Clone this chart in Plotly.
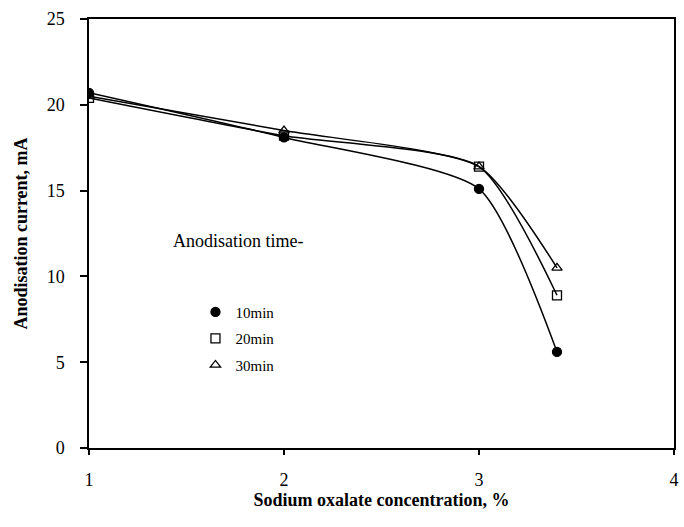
import plotly.graph_objects as go

conc = [1, 2, 3, 3.4]
cur_10 = [20.7, 18.1, 15.1, 5.6]
cur_20 = [20.4, 18.2, 16.4, 8.9]
cur_30 = [20.5, 18.5, 16.4, 10.5]
names = ["10min", "20min", "30min"]
symbols = ["circle", "square-open", "triangle-up-open"]

FONT = "Liberation Serif"
fig = go.Figure()
for ys, nm in zip([cur_10, cur_20, cur_30], names):
    fig.add_trace(go.Scatter(
        x=conc, y=ys, name=nm, mode="lines", showlegend=False, hoverinfo="skip",
        line=dict(color="black", width=1.5, shape="spline", smoothing=0.6),
    ))
for ys, nm, sym in zip([cur_10, cur_20, cur_30], names, symbols):
    fig.add_trace(go.Scatter(
        x=conc, y=ys, name=nm, mode="markers", legendgroup=nm,
        marker=dict(symbol=sym, size=9, color="black", line=dict(color="black", width=1.3)),
    ))

fig.add_annotation(x=0.14, y=0.483, xref="paper", yref="paper", xanchor="left", yanchor="middle",
                   text="Anodisation time-", showarrow=False,
                   font=dict(family=FONT, size=18, color="black"))

fig.update_layout(
    width=684, height=527,
    margin=dict(l=89, r=5, t=19, b=79),
    paper_bgcolor="white", plot_bgcolor="white",
    font=dict(family=FONT, size=18, color="black"),
    legend=dict(x=0.182, y=0.355, xanchor="left", yanchor="top", bgcolor="rgba(0,0,0,0)",
                font=dict(family=FONT, size=15), tracegroupgap=4, itemwidth=30),
    showlegend=True,
)
fig.update_xaxes(range=[1, 4], tickvals=[1, 2, 3, 4], showgrid=False, zeroline=False,
                 showline=True, linecolor="black", linewidth=1.5, mirror=True,
                 ticks="outside", ticklen=5, tickcolor="black", tickwidth=1.5,
                 ticklabelstandoff=10,
                 title=dict(text="<b>Sodium oxalate concentration, %</b>", font=dict(size=18), standoff=2))
fig.update_yaxes(range=[0, 25], tickvals=[0, 5, 10, 15, 20, 25], showgrid=False, zeroline=False,
                 showline=True, linecolor="black", linewidth=1.5, mirror=True,
                 ticks="outside", ticklen=7, tickcolor="black", tickwidth=1.5,
                 ticklabelstandoff=12,
                 title=dict(text="<b>Anodisation current, mA</b>", font=dict(size=18), standoff=14))
fig.write_html("out.html")
